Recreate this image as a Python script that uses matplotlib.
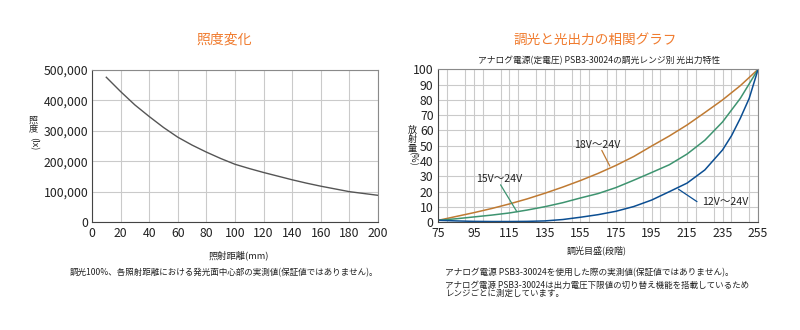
import matplotlib
matplotlib.use("Agg")
import matplotlib.pyplot as plt
from matplotlib.ticker import MultipleLocator, FuncFormatter

plt.rcParams['font.family'] = ['Noto Sans CJK JP', 'DejaVu Sans']

# ---- Left chart data: illuminance vs distance ----
distance_mm = [10, 20, 30, 40, 50, 60, 70, 80, 90, 100, 110, 120, 130, 140, 150, 160, 170, 180, 190, 200]
illuminance_lx = [476000, 429000, 385000, 347000, 311000, 279000, 253000, 230000, 209000, 190000,
                  176000, 163000, 151000, 139000, 128000, 118000, 109000, 100000, 94000, 88000]

# ---- Right chart data: dimming step vs light output (%) ----
steps = [75, 85, 95, 105, 115, 125, 135, 145, 155, 165, 175, 185, 195, 205, 215, 225, 235, 245, 255]
out_18_24 = [1.3, 3.8, 6.3, 9.0, 12.0, 15.3, 19.0, 23.0, 27.3, 32.0, 37.2, 43.0, 49.8, 56.4, 63.6, 71.7, 80.0, 89.3, 100]
out_15_24 = [1.3, 2.3, 3.5, 4.7, 6.1, 8.0, 10.2, 12.8, 15.9, 18.8, 22.7, 27.5, 32.5, 37.6, 44.6, 53.6, 65.6, 81.0, 100]
steps_12 = [75, 85, 95, 105, 115, 125, 135, 145, 155, 165, 175, 185, 195, 205, 215, 225, 235, 240, 245, 250, 255]
out_12_24 = [1.3, 0.9, 0.6, 0.5, 0.5, 0.6, 0.9, 1.8, 3.3, 5.0, 7.2, 10.3, 14.5, 20.0, 25.6, 34.2, 47.3, 56.5, 68.0, 81.0, 100]

series_labels = ['18V～24V', '15V～24V', '12V～24V']

left_xticks = [0, 20, 40, 60, 80, 100, 120, 140, 160, 180, 200]
left_yticks = [0, 100000, 200000, 300000, 400000, 500000]
right_xticks = [75, 95, 115, 135, 155, 175, 195, 215, 235, 255]
right_yticks = [0, 10, 20, 30, 40, 50, 60, 70, 80, 90, 100]

ORANGE_TITLE = '#F07B2E'
C18 = '#BF7A32'
C15 = '#3E9470'
C12 = '#0B4E92'
GRID = '#CACACA'
SPINE = '#8A8A8A'
TXT = '#222222'
TICK_FS = 8.8
VL_FS = 6.6

fig = plt.figure(figsize=(8, 3.3), dpi=100)


def fx(px):
    return px / 800


def fy(py):
    return 1 - py / 330


# ================= Left chart =================
ax1 = fig.add_axes([0.115, 0.327, 0.3575, 0.461])
ax1.plot(distance_mm, illuminance_lx, color='#555555', lw=1.0)
ax1.set_xlim(0, 200)
ax1.set_ylim(0, 500000)
ax1.set_xticks(left_xticks)
ax1.set_yticks(left_yticks)
ax1.yaxis.set_major_formatter(FuncFormatter(lambda v, p: '0' if v == 0 else f'{int(v):,}'))
ax1.grid(True, color=GRID, lw=0.8)
ax1.set_axisbelow(True)
ax1.tick_params(axis='y', length=0, labelsize=TICK_FS, colors=TXT, pad=2.5)
ax1.tick_params(axis='x', length=0, labelsize=TICK_FS, colors=TXT, pad=3.5)
for s in ax1.spines.values():
    s.set_color(SPINE)
    s.set_linewidth(0.8)
ax1.spines['bottom'].set_color('#444444')
ax1.spines['left'].set_color('#444444')

fig.text(fx(224), fy(40), '照度変化', color=ORANGE_TITLE, fontsize=10,
         ha='center', va='center')
fig.text(fx(239), fy(255), '照射距離(mm)', color=TXT, fontsize=6.7, ha='center', va='center')
fig.text(fx(224), fy(273),
         '調光100%、各照射距離における発光面中心部の実測値(保証値ではありません)。',
         color=TXT, fontsize=6.15, ha='center', va='center')
# vertical y-label: 照度(lx)
for ch, py in [('照', 120), ('度', 129)]:
    fig.text(fx(33), fy(py), ch, color=TXT, fontsize=VL_FS, ha='center', va='center')
fig.text(fx(33), fy(143.5), '(lx)', color=TXT, fontsize=VL_FS, ha='center', va='center', rotation=-90)

# ================= Right chart =================
ax2 = fig.add_axes([0.548, 0.3264, 0.3996, 0.4636])
ax2.plot(steps, out_18_24, color=C18, lw=1.1)
ax2.plot(steps, out_15_24, color=C15, lw=1.1)
ax2.plot(steps_12, out_12_24, color=C12, lw=1.1)
ax2.set_xlim(75, 255)
ax2.set_ylim(0, 100)
ax2.set_xticks(right_xticks)
ax2.set_yticks(right_yticks)
ax2.xaxis.set_minor_locator(MultipleLocator(10))
ax2.grid(True, which='both', axis='x', color=GRID, lw=0.8)
ax2.grid(True, which='major', axis='y', color=GRID, lw=0.8)
ax2.set_axisbelow(True)
ax2.tick_params(which='both', axis='y', length=0, labelsize=TICK_FS, colors=TXT, pad=3.5)
ax2.tick_params(which='both', axis='x', length=0, labelsize=TICK_FS, colors=TXT, pad=3.5)
for s in ax2.spines.values():
    s.set_color(SPINE)
    s.set_linewidth(0.8)
ax2.spines['bottom'].set_color('#444444')
ax2.spines['left'].set_color('#444444')

# annotation labels
ax2.text(164.5, 50.5, series_labels[0], color=TXT, fontsize=7.6, ha='center', va='center')
ax2.text(109.0, 28.3, series_labels[1], color=TXT, fontsize=7.6, ha='center', va='center')
ax2.text(236.5, 13.0, series_labels[2], color=TXT, fontsize=7.6, ha='center', va='center')
# leader lines
ax2.annotate('', xy=(171.5, 36.8), xytext=(167.0, 47.0),
             arrowprops=dict(arrowstyle='-', color=C18, lw=0.9, shrinkA=0, shrinkB=0))
ax2.annotate('', xy=(119.2, 6.9), xytext=(110.0, 24.5),
             arrowprops=dict(arrowstyle='-', color=C15, lw=0.9, shrinkA=0, shrinkB=0))
ax2.annotate('', xy=(210.2, 21.6), xytext=(220.6, 13.5),
             arrowprops=dict(arrowstyle='-', color=C12, lw=0.9, shrinkA=0, shrinkB=0))

fig.text(fx(595), fy(40), '調光と光出力の相関グラフ', color=ORANGE_TITLE, fontsize=9.8,
         ha='center', va='center')
fig.text(fx(599), fy(60.5),
         'アナログ電源(定電圧) PSB3-30024の調光レンジ別 光出力特性',
         color=TXT, fontsize=6.3, ha='center', va='center')
fig.text(fx(597), fy(250), '調光目盛(段階)', color=TXT, fontsize=6.5, ha='center', va='center')
fig.text(fx(445), fy(273),
         'アナログ電源 PSB3-30024を使用した際の実測値(保証値ではありません)。',
         color=TXT, fontsize=6.25, ha='left', va='center')
fig.text(fx(445), fy(285),
         'アナログ電源 PSB3-30024は出力電圧下限値の切り替え機能を搭載しているため',
         color=TXT, fontsize=6.1, ha='left', va='center')
fig.text(fx(445), fy(293.5), 'レンジごとに測定しています。',
         color=TXT, fontsize=6.1, ha='left', va='center')
# vertical y-label: 放射量(%)
for ch, py in [('放', 130), ('射', 139), ('量', 148)]:
    fig.text(fx(412), fy(py), ch, color=TXT, fontsize=VL_FS, ha='center', va='center')
fig.text(fx(412), fy(158.5), '(%)', color=TXT, fontsize=VL_FS, ha='center', va='center', rotation=-90)

fig.savefig('out.png', dpi=100, facecolor='white')
